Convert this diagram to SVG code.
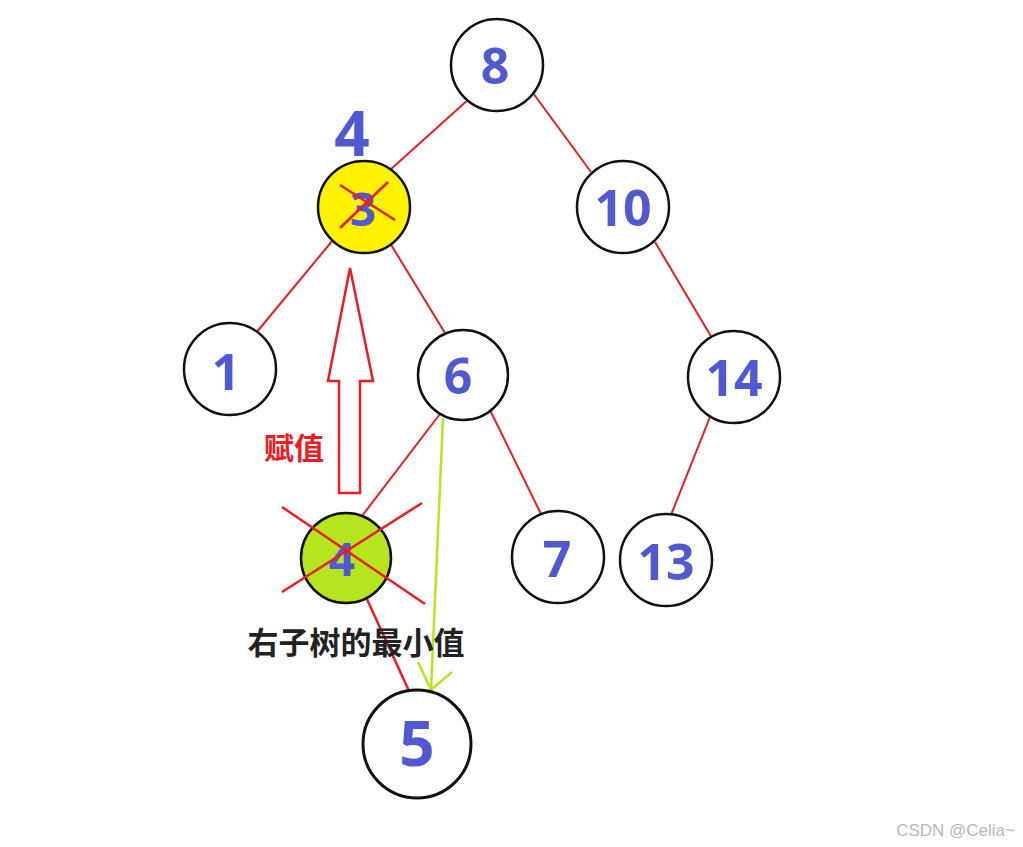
<svg xmlns="http://www.w3.org/2000/svg" width="1023" height="847" viewBox="0 0 1023 847">
<style>
.n{fill:#fff;stroke:#111;stroke-width:2.5}
.d{font-family:"Open Sans","Noto Sans",sans-serif;font-weight:bold;font-size:50px;fill:#5059d0;text-anchor:middle}
.e{stroke:#ec1c24;stroke-width:2;fill:none}
.x{stroke:#ec1c24;stroke-width:2.5}
</style>
<rect width="1023" height="847" fill="#fff"/>
<g id="connectors">
<line class="e" x1="470" y1="98" x2="390" y2="170"/>
<line class="e" x1="533" y1="93" x2="591" y2="172"/>
<line class="e" x1="333" y1="240" x2="256" y2="333"/>
<line class="e" x1="390" y1="243" x2="445" y2="333"/>
<line class="e" x1="655" y1="242" x2="712" y2="338"/>
<line class="e" x1="443" y1="410" x2="362" y2="516"/>
<line class="e" x1="489" y1="408" x2="543" y2="518"/>
<line class="e" x1="712" y1="412" x2="669" y2="520"/>
<line class="e" x1="366" y1="597" x2="409" y2="691" style="stroke-width:2.5"/>
<g id="green-arrow" stroke="#b5e61d" stroke-width="2.5" fill="none">
<line x1="443" y1="418" x2="431" y2="690"/>
<polyline points="418,662 431,690 452,672"/>
</g>
</g>
<g id="assign-arrow">
<polygon points="350,268 373,381 360,381 360,493 339,493 339,381 328,381" fill="none" stroke="#ec1c24" stroke-width="2.5"/>
</g>
<g id="node-8"><circle class="n" cx="497" cy="65" r="46"/><text class="d" x="495" y="84">8</text></g>
<g id="node-3"><circle cx="364" cy="207" r="46" fill="#fff200" stroke="#111" stroke-width="2.5"/><text class="d" x="363" y="226" style="font-size:46px">3</text>
<line class="x" x1="340" y1="185" x2="395" y2="220"/><line class="x" x1="388" y1="182" x2="340" y2="228"/></g>
<g id="label-4"><text class="d" x="352" y="156" style="font-size:62px">4</text></g>
<g id="node-10"><circle class="n" cx="623" cy="207" r="46"/><text class="d" x="623" y="226">10</text></g>
<g id="node-1"><circle class="n" cx="230" cy="369" r="46"/><text class="d" x="226" y="390">1</text></g>
<g id="node-6"><circle class="n" cx="463" cy="375" r="45"/><text class="d" x="458" y="394">6</text></g>
<g id="node-14"><circle class="n" cx="734" cy="377" r="46"/><text class="d" x="734" y="396">14</text></g>
<g id="node-4"><circle cx="346" cy="558" r="45" fill="#b5e61d" stroke="#111" stroke-width="2.5"/><text class="d" x="342" y="576" style="font-size:46px">4</text>
<line class="x" x1="282" y1="507" x2="425" y2="604"/><line class="x" x1="422" y1="503" x2="282" y2="592"/></g>
<g id="node-7"><circle class="n" cx="558" cy="557" r="46"/><text class="d" x="557" y="577">7</text></g>
<g id="node-13"><circle class="n" cx="666" cy="560" r="46"/><text class="d" x="666" y="580">13</text></g>
<g id="node-5"><circle class="n" cx="417" cy="744" r="54" style="stroke-width:3"/><text class="d" x="417" y="766" style="font-size:62px">5</text></g>
<text x="294" y="459" font-family="'Noto Sans CJK SC',sans-serif" font-weight="bold" font-size="30" fill="#ec1c24" text-anchor="middle">赋值</text>
<text x="356" y="654" font-family="'Noto Sans CJK SC',sans-serif" font-weight="bold" font-size="31" fill="#222" text-anchor="middle">右子树的最小值</text>
<text x="1015" y="836" font-family="'Liberation Sans',sans-serif" font-size="17" fill="#b8b8b8" text-anchor="end">CSDN @Celia~</text>
</svg>
